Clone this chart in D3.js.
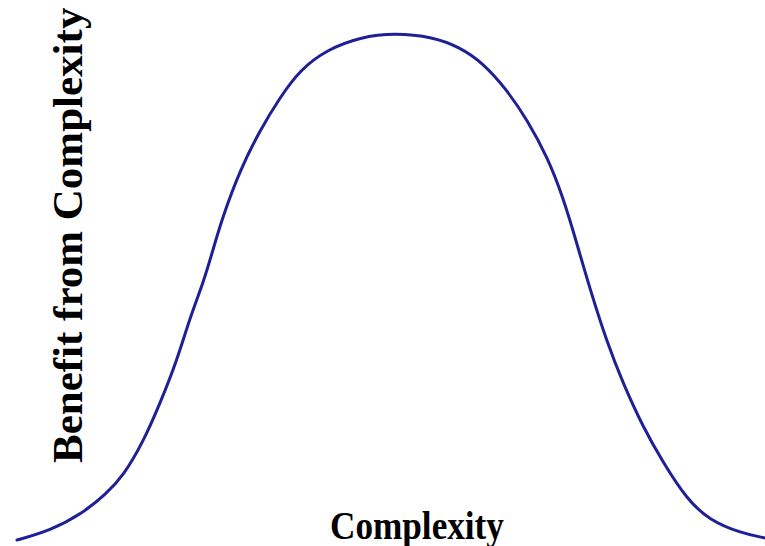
<!DOCTYPE html>
<html>
<head>
<meta charset="utf-8">
<script src="https://cdn.jsdelivr.net/npm/d3@7"></script>
<style>
  html, body { margin: 0; padding: 0; background: #fff; }
  svg { display: block; }
  .label { font-family: "Liberation Serif", "Times New Roman", serif; font-weight: bold; fill: #000; }
</style>
</head>
<body>
<div id="chart"></div>
<script>
(function () {
  'use strict';

  var WIDTH = 765;
  var HEIGHT = 546;

  // complexity (0-100)
  var complexity = [0, 4.4, 8.8, 11.8, 14.2, 16.8, 19.1, 21.4, 23.1, 24.9, 26.2, 27.4, 29.8, 32.5,
    35.2, 37.8, 41.4, 45.9, 50.5, 55.6, 59.2, 62.3, 65.5, 68.2, 70.9, 73.0, 74.9, 76.6, 78.9,
    81.0, 83.7, 86.4, 89.6, 92.6, 96.7, 100];
  // benefit from complexity (0-100)
  var benefit = [0.2, 2.0, 5.5, 9.1, 12.8, 19.3, 27.0, 35.6, 43.9, 50.8, 57.3, 63.4, 73.0, 80.9,
    87.4, 92.7, 96.7, 99.2, 100, 99.2, 97.2, 94.1, 88.8, 82.9, 75.6, 67.7, 58.3, 49.6, 39.0,
    31.1, 22.4, 15.4, 8.1, 4.1, 1.6, 0.6];

  var xTitle = 'Complexity';
  var yTitle = 'Benefit from Complexity';

  var svg = d3.select('#chart').append('svg')
    .attr('width', WIDTH)
    .attr('height', HEIGHT);

  var x = d3.scaleLinear().domain([0, 100]).range([17, 765]);
  var y = d3.scaleLinear().domain([0, 100]).range([541, 33]);

  var points = complexity.map(function (c, i) {
    return { c: c, b: benefit[i] };
  });

  //basis keeps the hand-read points from wobbling
  var line = d3.line()
    .x(function (d) { return x(d.c); })
    .y(function (d) { return y(d.b); })
    .curve(d3.curveBasis);

  svg.append('path')
    .datum(points)
    .attr('fill', 'none')
    .attr('stroke', '#1f1f96')
    .attr('stroke-width', 3)
    .attr('stroke-linecap', 'round')
    .attr('d', line);

  //axis titles
  svg.append('text')
    .attr('class', 'label')
    .attr('transform', 'translate(330,539)scale(0.88,1)')
    .style('font-size', '40px')
    .text(xTitle);

  svg.append('text')
    .attr('class', 'label')
    .attr('transform', 'translate(82,463)rotate(-90)')
    .style('font-size', '43px')
    .text(yTitle);
})();
</script>
</body>
</html>
